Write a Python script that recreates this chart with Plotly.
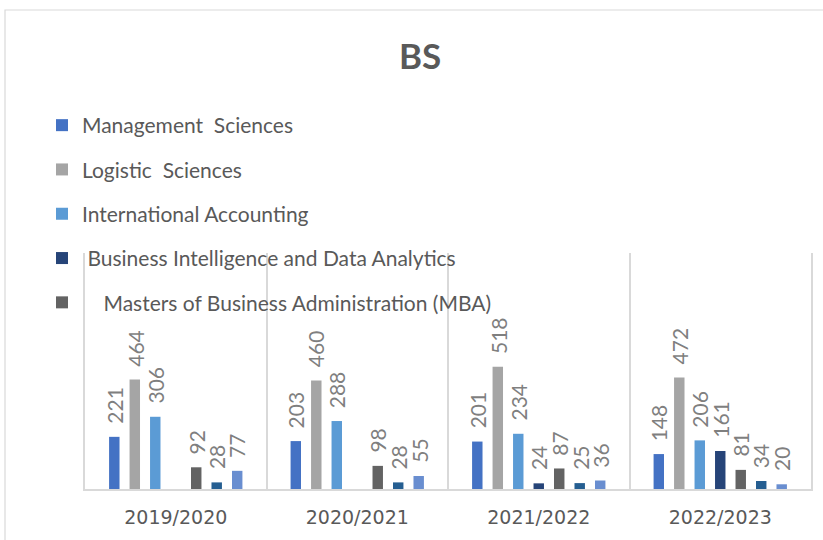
import plotly.graph_objects as go

years = ["2019/2020", "2020/2021", "2021/2022", "2022/2023"]

series_names = [
    "Management  Sciences",
    "Logistic  Sciences",
    "International Accounting",
    " Business Intelligence and Data Analytics",
    "    Masters of Business Administration (MBA)",
    "Series 6",
    "Series 7",
]
management = [221, 203, 201, 148]
logistic = [464, 460, 518, 472]
intl_accounting = [306, 288, 234, 206]
business_intel = [None, None, 24, 161]
mba = [92, 98, 87, 81]
series6 = [28, 28, 25, 34]
series7 = [77, 55, 36, 20]

values = [management, logistic, intl_accounting, business_intel, mba, series6, series7]
colors = ["#4472C4", "#A5A5A5", "#5B9BD5", "#264478", "#636363", "#255E91", "#698ED0"]
in_legend = [True, True, True, True, True, False, False]

BARGAP = 0.21
BARGROUPGAP = 0.49
n = len(values)
slot = (1 - BARGAP) / n

fig = go.Figure()
annotations = []
for i, (name, vals, col, leg) in enumerate(zip(series_names, values, colors, in_legend)):
    fig.add_trace(go.Bar(
        name=name,
        x=years,
        y=vals,
        marker=dict(color=col, line=dict(width=0)),
        showlegend=leg,
        legendgroup="g%d" % i,
        hoverinfo="x+y+name",
    ))
    offset = -(1 - BARGAP) / 2 + slot * (i + 0.5)
    for j, v in enumerate(vals):
        if v is None:
            continue
        annotations.append(dict(
            x=j + offset,
            y=v,
            xref="x",
            yref="y",
            text=str(v),
            showarrow=False,
            textangle=-90,
            xanchor="center",
            yanchor="bottom",
            yshift=11,
            font=dict(family="Lato, Noto Sans, sans-serif", size=21, color="#7F7F7F"),
        ))

fig.update_layout(
    width=823,
    height=540,
    paper_bgcolor="white",
    plot_bgcolor="white",
    barmode="group",
    bargap=BARGAP,
    bargroupgap=BARGROUPGAP,
    margin=dict(l=85, r=12, t=253, b=51, autoexpand=False),
    title=dict(
        text="<b>BS</b>",
        x=420 / 823,
        xref="container",
        xanchor="center",
        y=1 - 57 / 540,
        yref="container",
        yanchor="middle",
        font=dict(family="Lato, Noto Sans, sans-serif", size=35, color="#595959"),
    ),
    legend=dict(
        x=42 / 823,
        xref="container",
        xanchor="left",
        y=1 - 105 / 540,
        yref="container",
        yanchor="top",
        font=dict(family="Lato, Noto Sans, sans-serif", size=21, color="#595959"),
        tracegroupgap=14,
        bgcolor="rgba(0,0,0,0)",
        traceorder="grouped",
    ),
    xaxis=dict(
        type="category",
        tickson="boundaries",
        showgrid=True,
        gridcolor="#D9D9D9",
        gridwidth=1.5,
        showline=True,
        linecolor="#D9D9D9",
        linewidth=2,
        ticks="",
        tickangle=0,
        tickfont=dict(family="DejaVu Sans, sans-serif", size=19, color="#595959"),
        ticklabelstandoff=10,
        automargin=False,
    ),
    yaxis=dict(
        range=[0, 1000],
        showgrid=False,
        zeroline=False,
        showticklabels=False,
        showline=True,
        mirror=True,
        linecolor="#D9D9D9",
        linewidth=1.5,
        automargin=False,
    ),
    annotations=annotations,
    shapes=[dict(
        type="rect",
        xref="paper", yref="paper",
        x0=(5 - 85) / 726, x1=1.2,
        y0=-0.4, y1=(489 - 10) / 236,
        line=dict(color="#D9D9D9", width=1.2),
        fillcolor="rgba(0,0,0,0)",
        layer="below",
    )],
)

fig.write_html(
    "out.html",
    config={"displayModeBar": False},
    post_script="document.body.style.margin='0';document.body.style.overflow='hidden';",
)
